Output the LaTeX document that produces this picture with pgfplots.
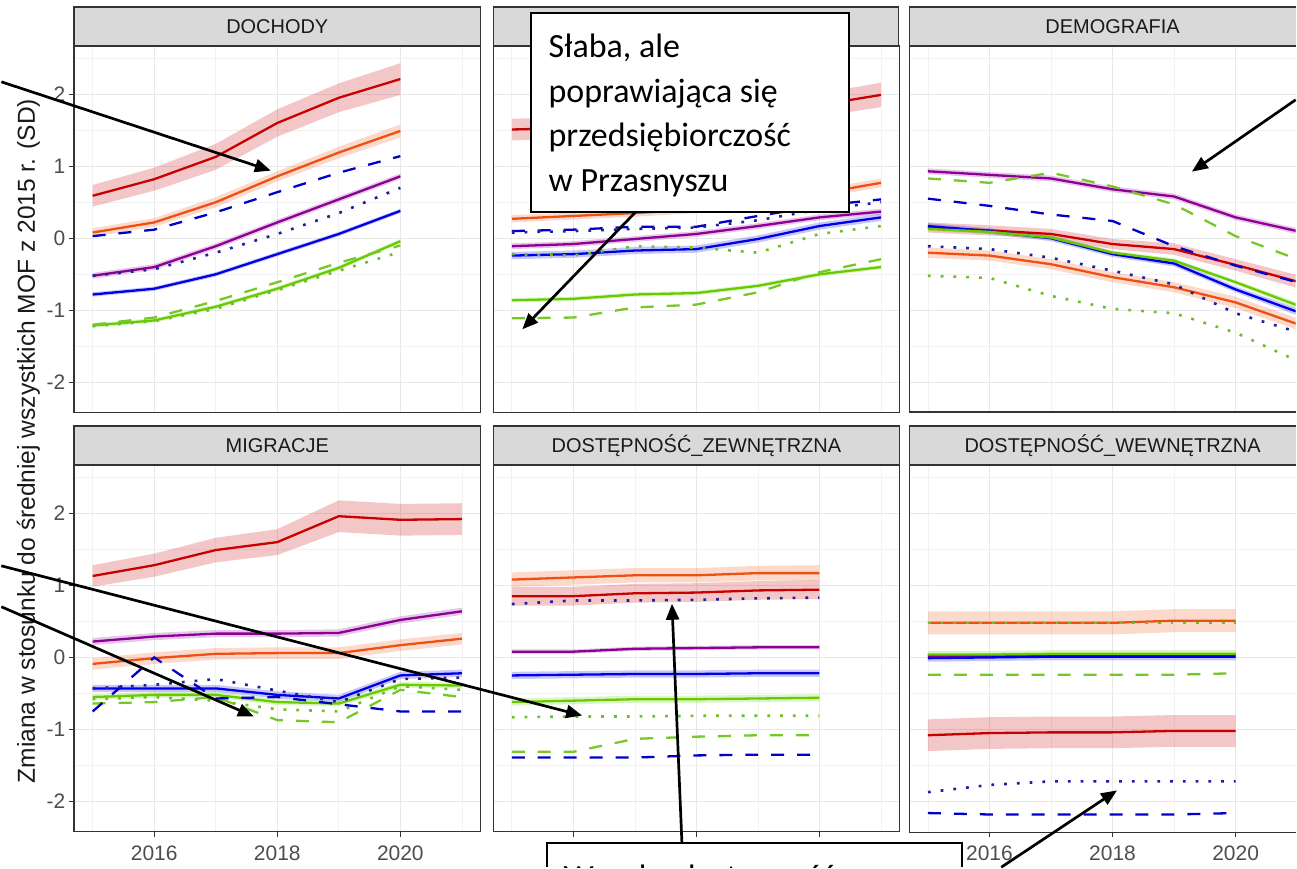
\documentclass[border=0pt]{standalone}
\usepackage{fontspec}
\setmainfont{Liberation Sans}
\newfontfamily\carlito{Carlito}
\usepackage{pgfplots}
\pgfplotsset{compat=1.18}
\usepackage{pgfplotstable}
\usetikzlibrary{arrows.meta}

\definecolor{cR}{RGB}{200,0,0}
\definecolor{cO}{RGB}{238,80,20}
\definecolor{cP}{RGB}{140,0,150}
\definecolor{cB}{RGB}{0,0,230}
\definecolor{cG}{RGB}{102,204,0}
\definecolor{cBd}{RGB}{0,0,200}
\definecolor{cBt}{RGB}{30,30,160}
\definecolor{cGd}{RGB}{118,200,40}
\definecolor{cGt}{RGB}{110,190,40}
\definecolor{tickgray}{RGB}{77,77,77}
\definecolor{frame}{RGB}{51,51,51}
\definecolor{strip}{RGB}{217,217,217}
\definecolor{gridmaj}{RGB}{232,232,232}
\definecolor{gridmin}{RGB}{242,242,242}

\pgfplotstableread{
x R wR O wO P wP B wB G wG Bd Bt Gd Gt
2015 0.59 0.15 0.08 0.06 -0.52 0.04 -0.78 0.03 -1.21 0.03 0.03 -0.52 -1.20 -1.22
2016 0.82 0.16 0.22 0.06 -0.40 0.04 -0.70 0.03 -1.14 0.03 0.12 -0.43 -1.10 -1.15
2017 1.13 0.18 0.50 0.07 -0.11 0.04 -0.50 0.03 -0.95 0.03 0.36 -0.20 -0.87 -0.98
2018 1.60 0.19 0.86 0.07 0.22 0.04 -0.22 0.03 -0.70 0.03 0.64 0.06 -0.61 -0.72
2019 1.95 0.20 1.19 0.08 0.54 0.04 0.06 0.03 -0.41 0.03 0.91 0.35 -0.34 -0.45
2020 2.21 0.22 1.49 0.09 0.86 0.04 0.38 0.03 -0.04 0.03 1.14 0.70 -0.10 -0.19
}\tDoch

\pgfplotstableread{
x R wR O wO P wP B wB G wG Bd Bt Gd Gt
2015 1.51 0.15 0.27 0.05 -0.11 0.04 -0.24 0.05 -0.86 0.03 0.10 0.08 -1.11 -0.22
2016 1.53 0.15 0.31 0.05 -0.08 0.04 -0.22 0.05 -0.84 0.03 0.12 0.10 -1.10 -0.24
2017 1.58 0.15 0.35 0.05 -0.01 0.04 -0.17 0.05 -0.78 0.03 0.16 0.13 -0.96 -0.11
2018 1.65 0.15 0.40 0.05 0.06 0.04 -0.15 0.05 -0.76 0.03 0.16 0.15 -0.92 -0.13
2019 1.73 0.15 0.48 0.05 0.17 0.04 -0.01 0.05 -0.66 0.03 0.31 0.25 -0.75 -0.20
2020 1.85 0.16 0.62 0.06 0.29 0.04 0.17 0.05 -0.50 0.03 0.45 0.40 -0.47 0.06
2021 1.99 0.17 0.77 0.06 0.37 0.04 0.29 0.05 -0.40 0.03 0.54 0.50 -0.29 0.17
}\tPrze

\pgfplotstableread{
x R wR O wO P wP B wB G wG Bd Bt Gd Gt
2015 0.15 0.07 -0.20 0.07 0.93 0.04 0.17 0.04 0.13 0.03 0.55 -0.11 0.83 -0.52
2016 0.11 0.07 -0.24 0.07 0.88 0.04 0.10 0.04 0.09 0.03 0.45 -0.15 0.77 -0.55
2017 0.06 0.07 -0.36 0.07 0.83 0.04 0.00 0.04 0.01 0.03 0.33 -0.27 0.91 -0.80
2018 -0.08 0.07 -0.54 0.07 0.68 0.04 -0.22 0.04 -0.20 0.03 0.24 -0.45 0.72 -0.98
2019 -0.15 0.08 -0.68 0.07 0.58 0.04 -0.35 0.04 -0.31 0.03 -0.11 -0.64 0.47 -1.04
2020 -0.37 0.08 -0.89 0.08 0.29 0.04 -0.71 0.04 -0.61 0.03 -0.38 -1.04 0.03 -1.31
2021 -0.60 0.09 -1.19 0.08 0.10 0.04 -1.02 0.05 -0.93 0.04 -0.61 -1.30 -0.29 -1.70
}\tDemo

\pgfplotstableread{
x R wR O wO P wP B wB G wG Bd Bt Gd Gt
2015 1.13 0.15 -0.09 0.08 0.22 0.05 -0.43 0.05 -0.55 0.04 -0.75 -0.43 -0.64 -0.58
2016 1.28 0.16 -0.01 0.08 0.29 0.05 -0.43 0.05 -0.52 0.04 0.00 -0.38 -0.62 -0.55
2017 1.49 0.17 0.05 0.08 0.33 0.05 -0.43 0.05 -0.52 0.04 -0.57 -0.30 -0.55 -0.60
2018 1.60 0.18 0.06 0.08 0.33 0.05 -0.52 0.05 -0.62 0.04 -0.55 -0.46 -0.87 -0.72
2019 1.96 0.22 0.06 0.08 0.34 0.05 -0.57 0.05 -0.64 0.04 -0.65 -0.62 -0.90 -0.75
2020 1.91 0.22 0.17 0.08 0.52 0.05 -0.25 0.05 -0.38 0.04 -0.75 -0.30 -0.45 -0.40
2021 1.92 0.22 0.26 0.08 0.64 0.05 -0.22 0.05 -0.39 0.04 -0.75 -0.28 -0.55 -0.45
}\tMigr

\pgfplotstableread{
x R wR O wO P wP B wB G wG Bd Bt Gd Gt
2015 0.85 0.13 1.08 0.10 0.08 0.03 -0.25 0.05 -0.62 0.05 -1.39 0.74 -1.31 -0.83
2016 0.85 0.13 1.11 0.10 0.08 0.03 -0.24 0.05 -0.60 0.05 -1.39 0.79 -1.31 -0.82
2017 0.89 0.13 1.14 0.10 0.12 0.03 -0.23 0.05 -0.58 0.05 -1.39 0.79 -1.13 -0.82
2018 0.90 0.13 1.14 0.10 0.13 0.03 -0.23 0.05 -0.58 0.05 -1.36 0.80 -1.10 -0.81
2019 0.93 0.13 1.17 0.10 0.14 0.03 -0.22 0.05 -0.57 0.05 -1.35 0.82 -1.08 -0.81
2020 0.94 0.13 1.17 0.11 0.14 0.03 -0.22 0.05 -0.56 0.05 -1.35 0.83 -1.08 -0.81
}\tDzew

\pgfplotstableread{
x R wR O wO P wP B wB G wG Bd Bt Gd Gt
2015 -1.08 0.22 0.48 0.16 0.02 0.03 -0.01 0.05 0.04 0.05 -2.16 -1.87 -0.24 0.48
2016 -1.05 0.22 0.48 0.16 0.02 0.03 0.00 0.05 0.04 0.05 -2.18 -1.77 -0.24 0.48
2017 -1.04 0.22 0.48 0.16 0.03 0.03 0.01 0.05 0.05 0.05 -2.18 -1.72 -0.24 0.48
2018 -1.04 0.22 0.48 0.16 0.03 0.03 0.01 0.05 0.05 0.05 -2.18 -1.72 -0.24 0.48
2019 -1.02 0.22 0.51 0.16 0.03 0.03 0.01 0.05 0.05 0.05 -2.18 -1.72 -0.24 0.48
2020 -1.02 0.22 0.51 0.16 0.03 0.03 0.01 0.05 0.05 0.05 -2.16 -1.72 -0.22 0.48
}\tDwew

% ribbon polygons: upper bound forward, lower bound backward
\newcommand\mkband[2]{%
  \pgfplotstablesort[sort key=x, sort cmp=float <]{#2}{#1}%
  \pgfplotstablesort[sort key=x, sort cmp=float >]{\tmprev}{#1}%
  \pgfplotstablecreatecol[create col/expr={\thisrow{R}+\thisrow{wR}}]{bR}{#2}%
  \pgfplotstablecreatecol[create col/expr={\thisrow{O}+\thisrow{wO}}]{bO}{#2}%
  \pgfplotstablecreatecol[create col/expr={\thisrow{P}+\thisrow{wP}}]{bP}{#2}%
  \pgfplotstablecreatecol[create col/expr={\thisrow{B}+\thisrow{wB}}]{bB}{#2}%
  \pgfplotstablecreatecol[create col/expr={\thisrow{G}+\thisrow{wG}}]{bG}{#2}%
  \pgfplotstablecreatecol[create col/expr={\thisrow{R}-\thisrow{wR}}]{bR}{\tmprev}%
  \pgfplotstablecreatecol[create col/expr={\thisrow{O}-\thisrow{wO}}]{bO}{\tmprev}%
  \pgfplotstablecreatecol[create col/expr={\thisrow{P}-\thisrow{wP}}]{bP}{\tmprev}%
  \pgfplotstablecreatecol[create col/expr={\thisrow{B}-\thisrow{wB}}]{bB}{\tmprev}%
  \pgfplotstablecreatecol[create col/expr={\thisrow{G}-\thisrow{wG}}]{bG}{\tmprev}%
  \pgfplotstablevertcat{#2}{\tmprev}%
}
\mkband{\tDoch}{\bDoch}
\mkband{\tPrze}{\bPrze}
\mkband{\tDemo}{\bDemo}
\mkband{\tMigr}{\bMigr}
\mkband{\tDzew}{\bDzew}
\mkband{\tDwew}{\bDwew}

\newcommand\allseries[2]{%
  \addplot[fill=cR, fill opacity=0.22, draw=none] table[x=x,y=bR]{#2};
  \addplot[fill=cO, fill opacity=0.22, draw=none] table[x=x,y=bO]{#2};
  \addplot[fill=cP, fill opacity=0.22, draw=none] table[x=x,y=bP]{#2};
  \addplot[fill=cB, fill opacity=0.22, draw=none] table[x=x,y=bB]{#2};
  \addplot[fill=cG, fill opacity=0.22, draw=none] table[x=x,y=bG]{#2};
  \addplot[cR, sline] table[x=x,y=R]{#1};
  \addplot[cO, sline] table[x=x,y=O]{#1};
  \addplot[cP, sline] table[x=x,y=P]{#1};
  \addplot[cB, sline] table[x=x,y=B]{#1};
  \addplot[cG, sline] table[x=x,y=G]{#1};
  \addplot[cGd, dline] table[x=x,y=Gd]{#1};
  \addplot[cGt, tline] table[x=x,y=Gt]{#1};
  \addplot[cBd, dline] table[x=x,y=Bd]{#1};
  \addplot[cBt, tline] table[x=x,y=Bt]{#1};
}

\pgfplotsset{
  sline/.style={line width=1.15pt, line join=round},
  dline/.style={line width=1.15pt, dash pattern=on 6.5pt off 6.5pt},
  tline/.style={line width=1.3pt, dash pattern=on 1.4pt off 5pt},
  panel/.style={
    anchor=north west, scale only axis, width=203.5pt, height=183.75pt,
    xmin=2014.7, xmax=2021.3, ymin=-2.42, ymax=2.67,
    xtick={2016,2018,2020}, ytick={-2,-1,0,1,2},
    minor xtick={2015,2017,2019,2021}, minor ytick={-2.5,-1.5,-0.5,0.5,1.5,2.5},
    grid=both,
    major grid style={draw=gridmaj, line width=0.6pt},
    minor grid style={draw=gridmin, line width=0.35pt},
    axis line style={draw=frame, line width=0.7pt},
    tick align=outside, major tick length=2.75pt, minor tick length=0pt,
    tick style={draw=frame, line width=0.6pt},
    xticklabels={}, yticklabels={},
    xmajorticks=false, ymajorticks=false,
    xtick pos=left, ytick pos=left,
    tick label style={font=\fontsize{10.5}{12}\selectfont, text=tickgray},
    every axis plot/.append style={mark=none},
  },
  leftcol/.style={ymajorticks=true, yticklabels={-2,-1,0,1,2}, yticklabel style={inner sep=1.5pt}},
  bottomticks/.style={xmajorticks=true},
  bottomrow/.style={xmajorticks=true, xticklabels={2016,2018,2020},
     xticklabel style={inner sep=1pt, yshift=-3pt}},
  rightcut/.style={width=193.5pt, xmax=2020.976, axis line style={draw=none}},
}

\begin{document}
\begin{tikzpicture}
% frame of the picture (1297 x 869 px, 1 px = 0.5 pt)
\path (0pt,0pt) rectangle (648.5pt,-434.5pt);

\begin{axis}[panel, leftcol, at={(36.5pt,-23pt)}]
\allseries{\tDoch}{\bDoch}
\end{axis}
\begin{axis}[panel, at={(246.5pt,-23pt)}]
\allseries{\tPrze}{\bPrze}
\end{axis}
\begin{axis}[panel, rightcut, at={(455pt,-23pt)}]
\allseries{\tDemo}{\bDemo}
\end{axis}
\begin{axis}[panel, leftcol, bottomrow, at={(36.5pt,-233pt)}]
\allseries{\tMigr}{\bMigr}
\end{axis}
\begin{axis}[panel, bottomticks, at={(246.5pt,-233pt)}]
\allseries{\tDzew}{\bDzew}
\end{axis}
\begin{axis}[panel, bottomrow, rightcut, at={(455pt,-233pt)}]
\allseries{\tDwew}{\bDwew}
\end{axis}

\begin{scope}[x=0.5pt, y=-0.5pt]
% frames of the cut right-hand panels
\draw[frame, line width=0.7pt] (1297,46) -- (910,46) -- (910,413) -- (1297,413);
\draw[frame, line width=0.7pt] (1297,466) -- (910,466) -- (910,834) -- (1297,834);

% strips (the title of the second panel is hidden by the annotation box)
\draw[fill=strip, draw=frame, line width=0.7pt] (493,7) rectangle ++(406,39);
\foreach \l/\t/\name in {73/7/DOCHODY, 73/427/MIGRACJE, 493/427/DOSTĘPNOŚĆ\_ZEWNĘTRZNA}{
  \draw[fill=strip, draw=frame, line width=0.7pt] (\l,\t) rectangle ++(407,39);
  \node[font=\fontsize{10}{12}\selectfont, text=black!90] at ({\l+203.5},{\t+19.5}) {\name};
}
\foreach \t/\name in {7/DEMOGRAFIA, 427/DOSTĘPNOŚĆ\_WEWNĘTRZNA}{
  \draw[fill=strip, draw=frame, line width=0.7pt] (1297,\t) -- (910,\t) -- (910,{\t+39}) -- (1297,{\t+39});
  \node[font=\fontsize{10}{12}\selectfont, text=black!90] at (1113.5,{\t+19.5}) {\name};
}

% y label
\node[rotate=90, font=\fontsize{12.3}{14}\selectfont, text=black!90] at (27,442)
   {Zmiana w stosunku do średniej wszystkich MOF z 2015 r. (SD)};

\tikzset{arr/.style={line width=1.35pt, draw=black, -{Triangle[length=8pt,width=6.5pt]}}}
% arrows from outside
\draw[arr] (0,82) -- (270,171);
\draw[arr] (1297,100) -- (1193,172);
\draw[arr] (0,567) -- (582,717);
\draw[arr] (0,608) -- (253,718);

% top annotation box
\draw[fill=white, draw=black, line width=1pt] (531,13) rectangle (849,212);
\begin{scope}[every node/.style={anchor=base west, inner sep=0pt, font=\carlito\fontsize{17}{22}\selectfont}]
  \node at (548,58) {Słaba, ale};
  \node at (548,102.5) {poprawiająca się};
  \node at (548,147) {przedsiębiorczość};
  \node at (548,191.5) {w Przasnyszu};
\end{scope}
\draw[arr] (636,212) -- (522,330);

% bottom annotation box (cut by the picture's lower edge)
\draw[fill=white, draw=black, line width=1pt] (547,869) -- (547,845) -- (963,845) -- (963,869);
\begin{scope}
  \clip (547,845) rectangle (963,869);
  \node[overlay, anchor=base west, inner sep=0pt, font=\carlito\fontsize{17}{22}\selectfont] at (563,890.5) {Wysoka dostępność};
\end{scope}
\draw[arr] (682,845) -- (672,605);
\draw[arr] (1002,869) -- (1118,792);
\end{scope}
\end{tikzpicture}
\end{document}
